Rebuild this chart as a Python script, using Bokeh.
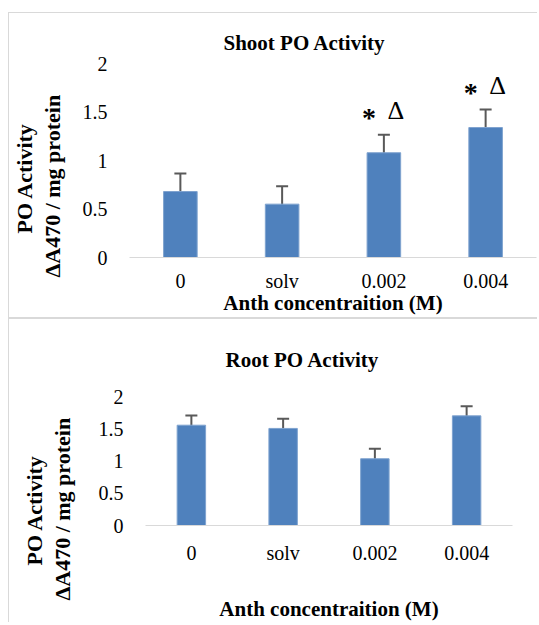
from bokeh.plotting import figure
from bokeh.models import (Range1d, FixedTicker, NumeralTickFormatter, Whisker, TeeHead,
                          ColumnDataSource, Title)
from bokeh.embed import file_html
from bokeh.resources import INLINE
from bokeh.core.properties import value

# ---------------- data ----------------
categories = ["0", "solv", "0.002", "0.004"]
shoot_mean = [0.68, 0.55, 1.08, 1.34]
shoot_err = [0.185, 0.185, 0.185, 0.185]
shoot_star = ["", "", "*", "*"]
shoot_delta = ["", "", "Δ", "Δ"]
root_mean = [1.555, 1.505, 1.035, 1.70]
root_err = [0.15, 0.15, 0.155, 0.15]
y_ticks = [0, 0.5, 1, 1.5, 2]
y_max = 2
shoot_title = "Shoot PO Activity"
root_title = "Root PO Activity"
x_title = "Anth concentraition (M)"
y_title_1 = "PO Activity"
y_title_2 = "ΔA470 / mg protein"

FONT = "Liberation Serif"
BAR = "#4F81BD"
ERR = "#595959"
BORDER = "1px solid #d9d9d9"


def make_panel(title, means, errs, height, bl, br, bt, bb, bar_w,
               title_offset, title_standoff, tick_standoff, label_standoff,
               ylab_gap, ylab_offsets, styles, margin, stars=None, deltas=None):
    x_pos = list(range(len(categories)))
    src = ColumnDataSource(dict(
        x=x_pos, mean=means,
        upper=[m + e for m, e in zip(means, errs)],
        lower=[m - e for m, e in zip(means, errs)],
        star=stars if stars else [""] * len(categories),
        delta=deltas if deltas else [""] * len(categories),
    ))
    p = figure(width=529, height=height, x_range=Range1d(-0.5, len(categories) - 0.5),
               y_range=Range1d(0, y_max), output_backend="svg", toolbar_location=None,
               min_border_left=bl, min_border_right=br, min_border_top=bt,
               min_border_bottom=bb, styles=styles, margin=margin)
    p.outline_line_color = None
    p.xgrid.visible = False
    p.ygrid.visible = False

    p.title.text = title
    p.title.text_font = FONT
    p.title.text_font_size = "21px"
    p.title.text_font_style = "bold"
    p.title.text_color = "black"
    p.title.align = "left"
    p.title.offset = title_offset
    p.title.standoff = title_standoff

    p.vbar(x="x", top="mean", width=bar_w, bottom=0, source=src,
           fill_color=BAR, line_color="#7fa3cf", line_width=1)
    w = Whisker(base="x", upper="upper", lower="lower", source=src,
                line_color=ERR, line_width=2,
                upper_head=TeeHead(size=12, line_color=ERR, line_width=2),
                lower_head=TeeHead(size=12, line_color=ERR, line_width=2))
    p.add_layout(w)

    if stars:
        p.text(x="x", y="upper", text="star", source=src, x_offset=-15, y_offset=-17,
               text_font=value(FONT), text_font_style="bold", text_font_size="28px",
               text_align="center", text_baseline="middle", text_color="black")
        p.text(x="x", y="upper", text="delta", source=src, x_offset=12, y_offset=-24,
               text_font=value(FONT), text_font_size="26px",
               text_align="center", text_baseline="middle", text_color="black")

    xa = p.xaxis[0]
    xa.ticker = FixedTicker(ticks=x_pos)
    xa.major_label_overrides = {i: c for i, c in zip(x_pos, categories)}
    xa.axis_line_color = "#d9d9d9"
    xa.axis_line_width = 1
    xa.major_tick_line_color = None
    xa.minor_tick_line_color = None
    xa.major_tick_out = 0
    xa.major_tick_in = 0
    xa.major_label_standoff = tick_standoff
    xa.major_label_text_font = FONT
    xa.major_label_text_font_size = "20px"
    xa.major_label_text_color = "black"
    xa.axis_label = x_title
    xa.axis_label_text_font = FONT
    xa.axis_label_text_font_size = "21px"
    xa.axis_label_text_font_style = "bold"
    xa.axis_label_text_color = "black"
    xa.axis_label_standoff = label_standoff

    ya = p.yaxis[0]
    ya.ticker = FixedTicker(ticks=y_ticks)
    ya.formatter = NumeralTickFormatter(format="0.[0]")
    ya.axis_line_color = None
    ya.major_tick_line_color = None
    ya.minor_tick_line_color = None
    ya.major_tick_out = 0
    ya.major_tick_in = 0
    ya.major_label_standoff = 22
    ya.major_label_text_font = FONT
    ya.major_label_text_font_size = "20px"
    ya.major_label_text_color = "black"

    # blank spacer panel between the tick labels and the two-line y title
    p.add_layout(Title(text=" ", text_font_size="8px", standoff=ylab_gap), "left")

    for txt, off in zip([y_title_2, y_title_1], ylab_offsets[::-1]):
        t = Title(text=txt, align="left", offset=off, standoff=1,
                  text_font=FONT, text_font_size="22px", text_font_style="bold",
                  text_color="black")
        p.add_layout(t, "left")
    return p


p1 = make_panel(shoot_title, shoot_mean, shoot_err, height=306,
                bl=118, br=2, bt=50, bb=62, bar_w=0.33,
                title_offset=94, title_standoff=18, tick_standoff=12, label_standoff=-4,
                ylab_gap=3, ylab_offsets=[24, -20],
                styles={"border-left": BORDER, "border-top": BORDER, "border-bottom": BORDER},
                margin=(12, 0, 0, 8),
                stars=shoot_star, deltas=shoot_delta)

p2 = make_panel(root_title, root_mean, root_err, height=304,
                bl=136, br=26, bt=77, bb=98, bar_w=0.31,
                title_offset=80, title_standoff=50, tick_standoff=16, label_standoff=30,
                ylab_gap=9, ylab_offsets=[-40, -75],
                styles={"border-left": BORDER, "border-top": BORDER},
                margin=(0, 0, 0, 8))

open("out.html", "w").write(file_html([p1, p2], INLINE))
